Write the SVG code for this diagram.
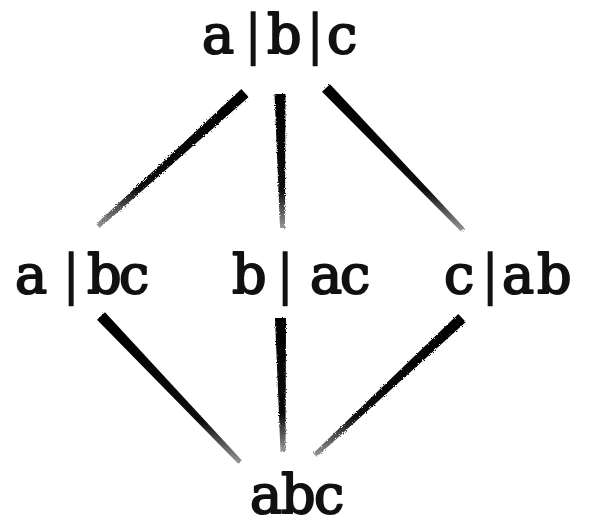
<svg xmlns="http://www.w3.org/2000/svg" width="589" height="526" viewBox="0 0 589 526">
<style>
.lbl{font-family:"DejaVu Serif","Liberation Serif",serif;font-size:54px;fill:#111;stroke:#111;stroke-width:2;stroke-linejoin:round}
.bar{stroke-width:0.6}
.edge{fill:url(#fade);filter:url(#rough)}
</style>
<defs>
<linearGradient id="fade" x1="0" y1="0" x2="0" y2="1">
<stop offset="0" stop-color="#000" stop-opacity="1"/>
<stop offset="0.72" stop-color="#000" stop-opacity="0.95"/>
<stop offset="1" stop-color="#000" stop-opacity="0.4"/>
</linearGradient>
<filter id="rough" x="-10%" y="-10%" width="120%" height="120%">
<feTurbulence type="fractalNoise" baseFrequency="0.9" numOctaves="2" seed="3" result="n"/>
<feDisplacementMap in="SourceGraphic" in2="n" scale="3"/>
</filter>
</defs>
<rect width="589" height="526" fill="#fff"/>
<g id="connectors">
<polygon class="edge" points="248.7,97.1 241.3,88.9 96.3,224.1 99.7,227.9"/>
<polygon class="edge" points="274.5,94 285.5,94 285,228 280,228"/>
<polygon class="edge" points="322,91.8 330,84.2 464.8,228.3 461.2,231.7"/>
<polygon class="edge" points="97,319.8 105,312.2 241.8,460.3 238.2,463.7"/>
<polygon class="edge" points="275,318 286,318 285.5,452 280.5,452"/>
<polygon class="edge" points="465.8,322 458.3,314 313.3,453.2 316.7,456.8"/>
</g>
<g id="n-a-b-c"><text class="lbl" y="53"><tspan x="202">a</tspan><tspan class="bar" x="244">|</tspan><tspan x="267">b</tspan><tspan class="bar" x="306">|</tspan><tspan x="327">c</tspan></text></g>
<g id="n-a-bc"><text class="lbl" y="293"><tspan x="15">a</tspan><tspan class="bar" x="62">|</tspan><tspan x="87">b</tspan><tspan x="119">c</tspan></text></g>
<g id="n-b-ac"><text class="lbl" y="293"><tspan x="232">b</tspan><tspan class="bar" x="276">|</tspan><tspan x="310">a</tspan><tspan x="340">c</tspan></text></g>
<g id="n-c-ab"><text class="lbl" y="293"><tspan x="444">c</tspan><tspan class="bar" x="481">|</tspan><tspan x="502">a</tspan><tspan x="537">b</tspan></text></g>
<g id="n-abc"><text class="lbl" y="513"><tspan x="250">a</tspan><tspan x="281">b</tspan><tspan x="314">c</tspan></text></g>
</svg>
